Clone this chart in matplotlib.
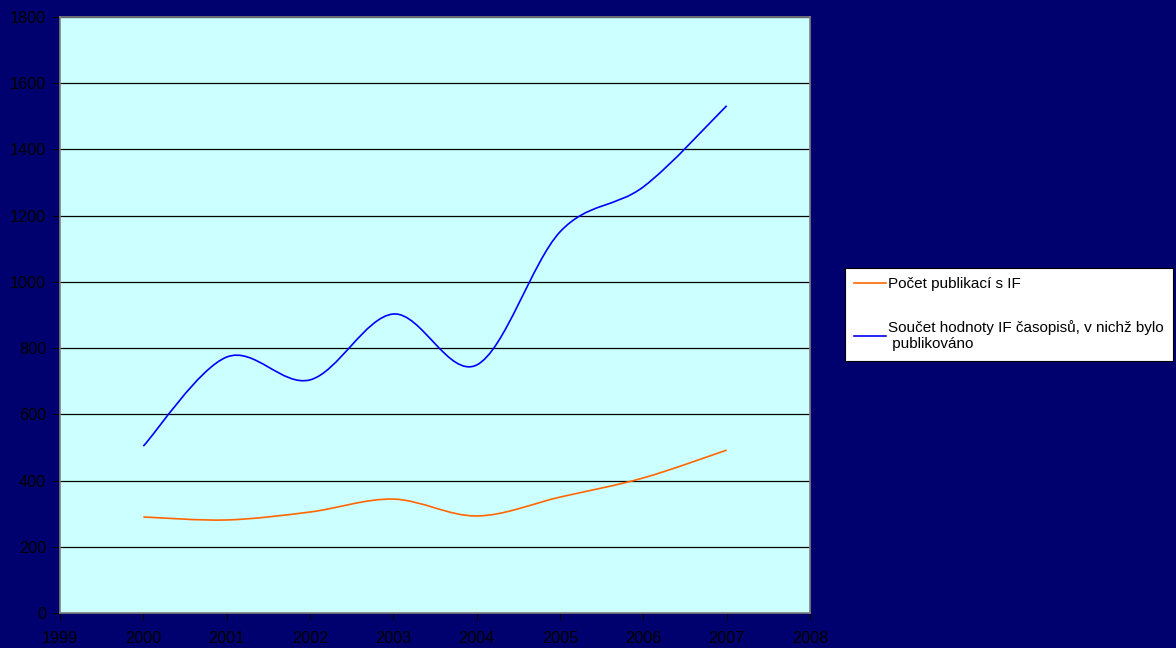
import matplotlib.pyplot as plt
from matplotlib.path import Path
from matplotlib.patches import PathPatch
import numpy as np

plt.rcParams['font.family'] = ['Liberation Sans', 'DejaVu Sans']

# data
years = [2000, 2001, 2002, 2003, 2004, 2005, 2006, 2007]
publikace = [290, 281, 305, 344, 293, 350, 408, 492]
soucet_if = [504, 773, 704, 903, 749, 1151, 1287, 1532]

labels = ["Počet publikací s IF",
          "Součet hodnoty IF časopisů, v nichž bylo\n publikováno"]
colors = ["#FF6600", "#0000FF"]

bg = "#00006e"


def smooth_path(x, y):
    # Excel-like smoothed line: cubic bezier segments, catmull-rom tangents
    x = np.asarray(x, float)
    y = np.asarray(y, float)
    n = len(x)
    verts = [(x[0], y[0])]
    codes = [Path.MOVETO]
    for i in range(n - 1):
        x0, y0 = (x[i - 1], y[i - 1]) if i > 0 else (x[i], y[i])
        x3, y3 = (x[i + 2], y[i + 2]) if i + 2 < n else (x[i + 1], y[i + 1])
        c1 = (x[i] + (x[i + 1] - x0) / 6, y[i] + (y[i + 1] - y0) / 6)
        c2 = (x[i + 1] - (x3 - x[i]) / 6, y[i + 1] - (y3 - y[i]) / 6)
        verts += [c1, c2, (x[i + 1], y[i + 1])]
        codes += [Path.CURVE4] * 3
    return Path(verts, codes)


fig = plt.figure(figsize=(11.76, 6.48), dpi=100, facecolor=bg)
ax = fig.add_axes([60 / 1176, 1 - 613 / 648, 750 / 1176, 596 / 648])
ax.set_facecolor("#CCFFFF")

for vals, lab, col in zip([publikace, soucet_if], labels, colors):
    patch = PathPatch(smooth_path(years, vals), facecolor="none",
                      edgecolor=col, lw=1.2)
    ax.add_patch(patch)
    ax.plot([], [], color=col, lw=1.2, label=lab)

ax.set_xlim(1999, 2008)
ax.set_ylim(0, 1800)
ax.set_xticks(range(1999, 2009))
ax.set_yticks(range(0, 1801, 200))
ax.yaxis.grid(True, color="black", lw=0.9)
ax.set_axisbelow(True)
ax.tick_params(colors="black", labelsize=11.7, length=5, width=0.8, pad=5)
ax.tick_params(axis="x", pad=8)
for s in ax.spines.values():
    s.set_color("#808080")
    s.set_linewidth(1.2)

leg = fig.legend(loc="upper left", bbox_to_anchor=(845 / 1176, 1 - 268 / 648),
                 fontsize=11, frameon=True, fancybox=False, edgecolor="black",
                 framealpha=1, handlelength=2.1, handletextpad=0.1,
                 labelspacing=1.9, borderpad=0.6, borderaxespad=0)
leg.get_frame().set_linewidth(0.8)

fig.savefig("out.png", dpi=100, facecolor=bg)
